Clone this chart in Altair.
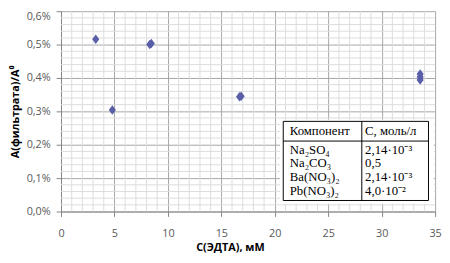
import altair as alt
import pandas as pd

# ---- data ----
edta_mM = [3.25, 4.8, 8.3, 8.45, 16.7, 16.85, 33.6, 33.6, 33.6]
ratio_pct = [0.516, 0.304, 0.500, 0.503, 0.344, 0.345, 0.412, 0.403, 0.394]

x_major = [0, 5, 10, 15, 20, 25, 30, 35]
y_major = [0.0, 0.1, 0.2, 0.3, 0.4, 0.5, 0.6]
x_minor = [i for i in range(1, 35) if i % 5]
y_minor = [round(0.02 * i, 2) for i in range(1, 30) if i % 5]

table_header = ["Компонент", "C, моль/л"]
table_components = ["Na₂SO₄", "Na₂CO₃", "Ba(NO₃)₂", "Pb(NO₃)₂"]
table_conc = ["2,14·10⁻³", "0,5", "2,14·10⁻³", "4,0·10⁻²"]

# ---- table geometry (data coordinates) ----
TX1, TX2, TXD = 20.79, 34.38, 28.14
TY1, TY2, TYH = 0.033, 0.270, 0.211
text_rows_y = [0.240, 0.185, 0.144, 0.103, 0.062]
col_x = [21.4, 28.45]

pts = pd.DataFrame({"x": edta_mM, "y": ratio_pct})

XS = alt.Scale(domain=[0, 35], nice=False, zero=False)
YS = alt.Scale(domain=[0, 0.6], nice=False, zero=False)

X_AX = alt.Axis(
    values=x_major, title="C(ЭДТА), мМ", grid=True, gridColor="#A6A6A6",
    domainColor="#868686", tickColor="#868686", tickSize=5,
    labelPadding=11, labelFont="Open Sans", labelFontSize=11,
    labelColor="#595959", titleFont="Open Sans", titleFontSize=11,
    titleFontWeight="bold", titleColor="#000000",
    titleX=172, titleY=37, titleBaseline="middle", titleAlign="center",
    labelFlush=False)
Y_AX = alt.Axis(
    values=y_major, title="A(фильтрата)/A⁰", grid=True, gridColor="#A6A6A6",
    domainColor="#868686", tickColor="#868686", tickSize=5,
    labelPadding=6, labelFont="Open Sans", labelFontSize=11,
    labelColor="#595959",
    labelOffset={"condition": {"test": "datum.value >= 0.59", "value": 5}, "value": 0},
    labelExpr="replace(format(datum.value, '.1f'), '.', ',') + '%'",
    titleFont="Open Sans", titleFontSize=11, titleFontWeight="bold",
    titleColor="#000000", titleX=-46, titleY=102, titleBaseline="middle",
    titleAlign="center", labelFlush=False)


def X(f="x"):
    return alt.X(f + ":Q", scale=XS, axis=X_AX)


def Y(f="y"):
    return alt.Y(f + ":Q", scale=YS, axis=Y_AX)


minor_x_layer = alt.Chart(pd.DataFrame({"x": x_minor})).mark_rule(
    color="#DCDCDC", strokeWidth=1
).encode(x=X())

minor_y_layer = alt.Chart(pd.DataFrame({"y": y_minor})).mark_rule(
    color="#DCDCDC", strokeWidth=1
).encode(y=Y())

points = alt.Chart(pts).mark_point(
    shape="M0,-1.2L0.9,0L0,1.2L-0.9,0Z", filled=True, opacity=1,
    size=64, color="#5A5EA8"
).encode(x=X(), y=Y())

table_pad = alt.Chart(pd.DataFrame({"x": [TX1 - 0.3], "x2": [TX2 + 0.5],
                                    "y": [TY1 - 0.01], "y2": [TY2 + 0.005]})).mark_rect(
    fill="white"
).encode(x=X(), x2="x2:Q", y=Y(), y2="y2:Q")

table_box = alt.Chart(pd.DataFrame({"x": [TX1], "x2": [TX2],
                                    "y": [TY1], "y2": [TY2]})).mark_rect(
    fill="white", stroke="black", strokeWidth=1
).encode(x=X(), x2="x2:Q", y=Y(), y2="y2:Q")

table_lines = alt.Chart(pd.DataFrame({
    "x": [TXD, TX1], "x2": [TXD, TX2], "y": [TY1, TYH], "y2": [TY2, TYH]
})).mark_rule(color="black", strokeWidth=1).encode(
    x=X(), x2="x2:Q", y=Y(), y2="y2:Q")

rows = []
left_col = [table_header[0]] + table_components
right_col = [table_header[1]] + table_conc
for i, yv in enumerate(text_rows_y):
    rows.append({"x": col_x[0], "y": yv, "t": left_col[i]})
    rows.append({"x": col_x[1], "y": yv, "t": right_col[i]})

table_text = alt.Chart(pd.DataFrame(rows)).mark_text(
    align="left", baseline="middle", font="Liberation Serif", fontSize=13,
    color="black"
).encode(x=X(), y=Y(), text="t:N")

chart = alt.layer(
    minor_x_layer, minor_y_layer, points, table_pad, table_box, table_lines, table_text
).properties(
    width=381, height=204,
    padding={"left": 54, "top": 1, "right": 7, "bottom": 40},
    autosize=alt.AutoSizeParams(type="none"),
    background="white",
).configure_view(stroke=None)

chart.save("out.html", embed_options={"renderer": "svg", "actions": False})
